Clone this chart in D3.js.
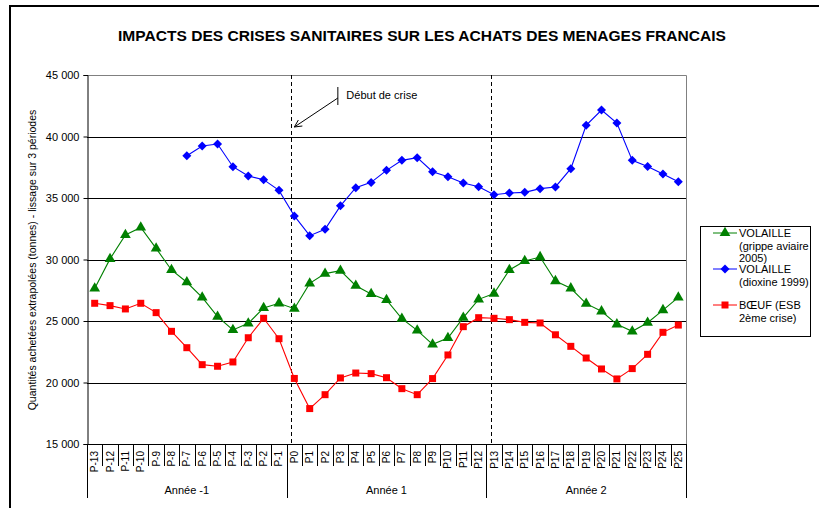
<!DOCTYPE html>
<html><head><meta charset="utf-8">
<script src="https://cdn.jsdelivr.net/npm/d3@7/dist/d3.min.js"></script>
<style>body{margin:0;background:#fff}svg{display:block;font-family:Arial,"Liberation Sans",sans-serif}</style>
</head><body>
<script>
const categories = ["P-13","P-12","P-11","P-10","P-9","P-8","P-7","P-6","P-5","P-4","P-3","P-2","P-1",
  "P0","P1","P2","P3","P4","P5","P6","P7","P8","P9","P10","P11","P12",
  "P13","P14","P15","P16","P17","P18","P19","P20","P21","P22","P23","P24","P25"];
const volailleGrippe = [27650,30050,32000,32600,30900,29150,28150,26920,25350,24270,24810,26060,26440,
  26000,28060,28850,29090,27870,27200,26710,25190,24240,23100,23620,25270,26760,
  27230,29150,29880,30200,28250,27660,26410,25790,24730,24160,24860,25890,26920];
const volailleDioxine = [null,null,null,null,null,null,38440,39230,39390,37545,36790,36490,35620,
  33540,31940,32450,34360,35840,36270,37250,38060,38280,37140,36730,36220,35920,
  35270,35410,35460,35760,35900,37380,40910,42150,41100,38060,37570,36950,36330];
const boeufESB = [26440,26250,25980,26440,25680,24160,22830,21450,21320,21670,23640,25220,23560,
  20330,17880,19010,20370,20770,20720,20390,19500,19010,20320,22240,24540,25270,
  25220,25110,24890,24840,23880,22940,21990,21100,20290,21130,22290,24080,24670];
const yTicks = [15000,20000,25000,30000,35000,40000,45000];
const years = [{label:"Année -1", from:"P-13", to:"P-1"},{label:"Année 1", from:"P0", to:"P12"},{label:"Année 2", from:"P13", to:"P25"}];
const crisisMarks = ["P0","P13"];
const seriesNames = [["VOLAILLE","(grippe aviaire","2005)"],["VOLAILLE","(dioxine 1999)"],["BŒUF (ESB","2ème crise)"]];
const title = "IMPACTS DES CRISES SANITAIRES SUR LES ACHATS DES MENAGES FRANCAIS";
const yLabel = "Quantités achetées extrapolées (tonnes) - lissage sur 3 périodes";
const annotation = "Début de crise";

const W=819,H=508;
const L=87,R=686,T=75,B=444;
const svg=d3.select("body").append("svg").attr("width",W).attr("height",H);
svg.append("rect").attr("width",W).attr("height",H).attr("fill","#fff");
svg.append("path").attr("d",`M10,${H} V6 H819`).attr("fill","none").attr("stroke","#000").attr("stroke-width",2);

const x=d3.scaleBand().domain(categories).range([L,R]).padding(0);
const xc=c=>x(c)+x.bandwidth()/2;
const y=d3.scaleLinear().domain([15000,45000]).range([B,T]);

svg.append("text").attr("x",422).attr("y",41).attr("text-anchor","middle")
  .attr("font-weight","bold").attr("font-size",14.5).attr("textLength",608).attr("lengthAdjust","spacingAndGlyphs").text(title);

svg.append("g").selectAll("line").data(yTicks.filter(v=>v>15000&&v<45000)).join("line")
  .attr("x1",L).attr("x2",R).attr("y1",d=>Math.round(y(d))+0.5).attr("y2",d=>Math.round(y(d))+0.5)
  .attr("stroke","#000").attr("stroke-width",1);
svg.append("path").attr("d",`M${L},${T+0.5} H${R+0.5} V${B}`).attr("fill","none").attr("stroke","#808080");

const yAxis=svg.append("g").attr("transform",`translate(${L+0.5},0)`)
  .call(d3.axisLeft(y).tickValues(yTicks).tickSize(4).tickPadding(4).tickFormat(d=>d3.format(",")(d).replace(",","\u00a0")));
yAxis.select(".domain").attr("stroke","#000");
yAxis.selectAll("text").attr("font-size",11).attr("font-family","Arial, 'Liberation Sans', sans-serif").attr("fill","#000");

svg.append("text").attr("transform","translate(36,260) rotate(-90)").attr("text-anchor","middle")
  .attr("font-size",10.5).text(yLabel);

const gx=svg.append("g");
gx.append("line").attr("x1",L).attr("x2",R+1).attr("y1",B+0.5).attr("y2",B+0.5).attr("stroke","#000");
const bounds=categories.map(c=>x(c)).concat([R]);
gx.selectAll("line.tk").data(bounds).join("line").attr("class","tk")
  .attr("x1",d=>Math.round(d)+0.5).attr("x2",d=>Math.round(d)+0.5).attr("y1",B).attr("y2",466).attr("stroke","#000");
gx.selectAll("text.cat").data(categories).join("text").attr("class","cat")
  .attr("transform",d=>`translate(${xc(d)+3.5},451) rotate(-90)`).attr("text-anchor","end")
  .attr("font-size",10).text(d=>d);
const yearBounds=[x(years[0].from)].concat(years.map(yr=>x(yr.to)+x.bandwidth()));
gx.selectAll("line.yr").data(yearBounds).join("line").attr("class","yr")
  .attr("x1",d=>Math.round(d)+0.5).attr("x2",d=>Math.round(d)+0.5).attr("y1",466).attr("y2",498).attr("stroke","#000");
gx.selectAll("text.yr").data(years).join("text").attr("class","yr")
  .attr("x",d=>(x(d.from)+x(d.to)+x.bandwidth())/2).attr("y",494).attr("text-anchor","middle")
  .attr("font-size",11).text(d=>d.label);

svg.selectAll("line.cr").data(crisisMarks).join("line").attr("class","cr")
  .attr("x1",d=>Math.round(xc(d))-2.5).attr("x2",d=>Math.round(xc(d))-2.5).attr("y1",T).attr("y2",B)
  .attr("stroke","#000").attr("stroke-dasharray","4,3");

const ax=xc("P0");
const ann=svg.append("g");
ann.append("line").attr("x1",ax+43.5).attr("x2",ax+43.5).attr("y1",87).attr("y2",105).attr("stroke","#000");
ann.append("line").attr("x1",ax+43.5).attr("y1",98).attr("x2",ax).attr("y2",127).attr("stroke","#000");
ann.append("path").attr("d",`M${ax+8},126 L${ax},127 L${ax+4},120`).attr("fill","none").attr("stroke","#000");
ann.append("text").attr("x",ax+52).attr("y",99).attr("font-size",11).text(annotation);

const series=[
  {vals:volailleGrippe,color:"#008000",shape:"tri"},
  {vals:volailleDioxine,color:"#0000ff",shape:"dia"},
  {vals:boeufESB,color:"#ff0000",shape:"sq"}
];
const sym={tri:d3.symbol(d3.symbolTriangle,50)(),dia:"M0,-4.5L4.5,0L0,4.5L-4.5,0Z",sq:d3.symbol(d3.symbolSquare,49)()};
const line=d3.line().defined(d=>d.v!=null).x(d=>xc(d.c)).y(d=>y(d.v));
series.forEach(s=>{
  const pts=categories.map((c,i)=>({c,v:s.vals[i]}));
  svg.append("path").datum(pts).attr("d",line).attr("fill","none").attr("stroke",s.color).attr("stroke-width",1.1);
  svg.append("g").selectAll("path").data(pts.filter(p=>p.v!=null)).join("path")
    .attr("transform",p=>`translate(${xc(p.c)},${y(p.v)})`).attr("d",sym[s.shape]).attr("fill",s.color);
});

const lg=svg.append("g");
lg.append("rect").attr("x",700.5).attr("y",226.5).attr("width",110).attr("height",110).attr("fill","#fff").attr("stroke","#000");
const ly=[233,269,305];
series.forEach((s,i)=>{
  lg.append("line").attr("x1",713).attr("x2",737).attr("y1",ly[i]).attr("y2",ly[i]).attr("stroke",s.color);
  lg.append("path").attr("transform",`translate(725,${ly[i]})`).attr("d",sym[s.shape]).attr("fill",s.color);
  seriesNames[i].forEach((t,j)=>{
    lg.append("text").attr("x",739).attr("y",ly[i]+4+j*12.5).attr("font-size",11).text(t);
  });
});
</script>
</body></html>
